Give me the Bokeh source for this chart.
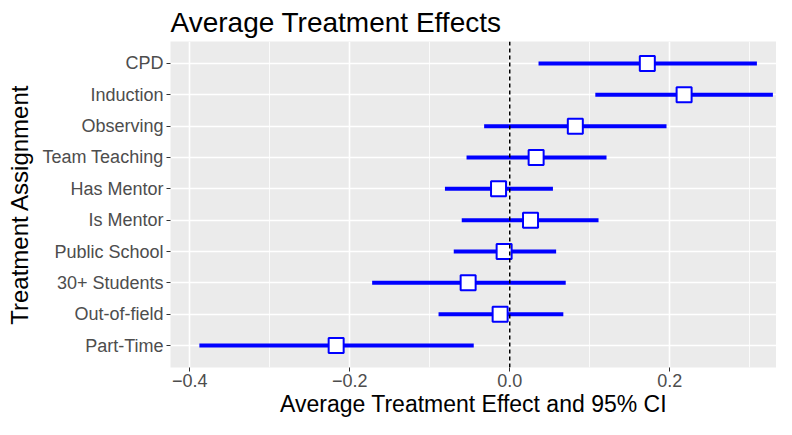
from bokeh.plotting import figure
from bokeh.models import FactorRange, Range1d, FixedTicker, Span, ColumnDataSource
from bokeh.embed import file_html
from bokeh.resources import INLINE

# ---- data (top to bottom as in the chart) ----
categories = ["CPD", "Induction", "Observing", "Team Teaching", "Has Mentor",
              "Is Mentor", "Public School", "30+ Students", "Out-of-field", "Part-Time"]
estimate = [0.172, 0.218, 0.082, 0.033, -0.014, 0.026, -0.007, -0.052, -0.012, -0.217]
lower = [0.036, 0.107, -0.032, -0.054, -0.081, -0.060, -0.070, -0.172, -0.089, -0.388]
upper = [0.309, 0.329, 0.196, 0.121, 0.054, 0.111, 0.058, 0.070, 0.067, -0.045]

x_ticks = [-0.4, -0.2, 0.0, 0.2]
x_tick_labels = ["\u22120.4", "\u22120.2", "0.0", "0.2"]
x_minor_ticks = [-0.3, -0.1, 0.1, 0.3]

FONT = "Liberation Sans"

src = ColumnDataSource(data=dict(cat=categories, est=estimate, lo=lower, hi=upper))

yr = FactorRange(factors=list(reversed(categories)), range_padding=0.2,
                 range_padding_units="absolute")
p = figure(width=776, height=419, y_range=yr, x_range=Range1d(-0.4241, 0.3335),
           output_backend="svg", toolbar_location=None,
           min_border_left=170, min_border_right=0, min_border_top=40, min_border_bottom=0)

p.background_fill_color = "#EBEBEB"
p.border_fill_color = "white"
p.outline_line_color = None

# title
p.title.text = "Average Treatment Effects"
p.title.text_font = FONT
p.title.text_font_size = "28px"
p.title.text_font_style = "normal"
p.title.text_color = "black"
p.title.align = "left"
p.title.standoff = 8

# x axis
p.xaxis.ticker = FixedTicker(ticks=x_ticks, minor_ticks=x_minor_ticks)
p.xaxis.major_label_overrides = {t: l for t, l in zip(x_ticks, x_tick_labels)}
p.xaxis.axis_label = "Average Treatment Effect and 95% CI"

for ax in (p.xaxis, p.yaxis):
    ax.axis_line_color = None
    ax.major_tick_line_color = "#333333"
    ax.major_tick_line_width = 1
    ax.major_tick_out = 4
    ax.major_tick_in = 0
    ax.minor_tick_out = 0
    ax.minor_tick_in = 0
    ax.major_label_text_font = FONT
    ax.major_label_text_font_size = "18px"
    ax.major_label_text_color = "#4D4D4D"
    ax.axis_label_text_font = FONT
    ax.axis_label_text_font_style = "normal"
    ax.axis_label_text_color = "black"

p.xaxis.major_label_standoff = 2
p.xaxis.axis_label_standoff = 1
p.xaxis.axis_label_text_font_size = "23px"

p.yaxis.major_label_standoff = 3
p.yaxis.axis_label_standoff = 6
p.yaxis.axis_label = "Treatment Assignment"
p.yaxis.axis_label_text_font_size = "24px"

# grid
p.xgrid.grid_line_color = "white"
p.xgrid.grid_line_width = 1.6
p.xgrid.minor_grid_line_color = "white"
p.xgrid.minor_grid_line_width = 0.8
p.ygrid.grid_line_color = "white"
p.ygrid.grid_line_width = 1.6

# error bars and points
p.segment(x0="lo", y0="cat", x1="hi", y1="cat", source=src,
          line_color="#0000FF", line_width=4)
p.scatter(x="est", y="cat", source=src, marker="square", size=15,
          fill_color="white", line_color="#0000FF", line_width=2)

# dashed zero line on top
p.add_layout(Span(location=0, dimension="height", line_color="black",
                  line_width=1.5, line_dash="4 3"))

open("out.html", "w").write(file_html(p, INLINE))
